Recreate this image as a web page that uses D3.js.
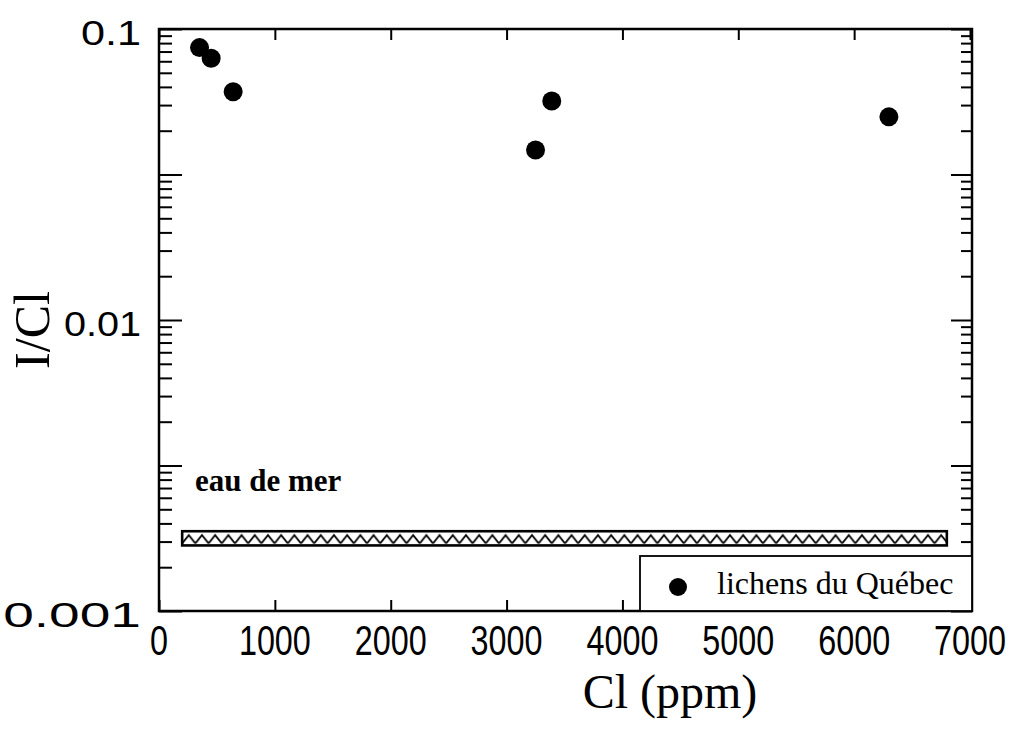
<!DOCTYPE html>
<html><head><meta charset="utf-8">
<script src="https://cdn.jsdelivr.net/npm/d3@7"></script>
<style>body{margin:0;background:#fff}</style></head>
<body><svg id="c" width="1016" height="738"></svg>
<script>
// ---- data ----
const xTickValues = [0,1000,2000,3000,4000,5000,6000,7000];
const xTickLabels = ["0","1000","2000","3000","4000","5000","6000","7000"];
const yMajorValues = [0.1,0.01,0.001];
const yTickLabels = ["0.1","0.01","0.001"];
const clPpm = [350,450,640,3250,3390,6300];
const iCl   = [0.0863,0.0793,0.0609,0.0384,0.0566,0.0499];
const seaCl = [200,6800];
const seaICl = [0.00168,0.00188];
const seriesName = "lichens du Québec";
const bandLabel = "eau de mer";
const xTitle = "Cl (ppm)";
const yTitle = "I/Cl";

// ---- layout ----
const L=159,R=972,T=29,B=611;
const svg=d3.select("#c");
const x=d3.scaleLinear().domain([0,7000]).range([L,R-2]);
const y=d3.scaleLog().domain([0.001,0.1]).range([B,T]);

// half-decade and minor tick values (as drawn in the original)
const halfTicks=[], minorTicks=[];
yMajorValues.slice(0,2).forEach(top=>{
  const h=top/Math.sqrt(10); halfTicks.push(h);
  [top,h].forEach(ht=>{ for(let k=2;k<=9;k++) minorTicks.push(ht*Math.sqrt(k/10)); });
});

const sansF="'Liberation Sans', Arial, sans-serif";
const serifF="'Liberation Serif','Times New Roman', serif";

function styleAxis(g){
  g.select(".domain").remove();
  g.selectAll(".tick line").attr("stroke","#000").attr("stroke-width",2);
}
// left axis
svg.append("g").attr("transform",`translate(${L},0)`)
  .call(d3.axisLeft(y).tickValues(minorTicks).tickSize(-13).tickFormat(""))
  .call(styleAxis);
svg.append("g").attr("transform",`translate(${L},0)`)
  .call(d3.axisLeft(y).tickValues(halfTicks.concat(yMajorValues)).tickSize(-23).tickFormat(""))
  .call(styleAxis);
// right axis
svg.append("g").attr("transform",`translate(${R},0)`)
  .call(d3.axisRight(y).tickValues(minorTicks).tickSize(-11).tickFormat(""))
  .call(styleAxis);
svg.append("g").attr("transform",`translate(${R},0)`)
  .call(d3.axisRight(y).tickValues(halfTicks.concat(yMajorValues)).tickSize(-21).tickFormat(""))
  .call(styleAxis);
// y labels: horizontal stretch follows the reference scan
const yLabelStretch=[1.2,1.1,1.53];
svg.append("g").selectAll("text").data(yMajorValues).join("text")
  .attr("transform",(d,i)=>`translate(141,${y(d)+3}) scale(${yLabelStretch[i]},1)`)
  .attr("dy","0.35em").attr("text-anchor","end")
  .attr("font-family",sansF).attr("font-size",36)
  .text((d,i)=>yTickLabels[i]);
// bottom axis
svg.append("g").attr("transform",`translate(0,${B})`)
  .call(d3.axisBottom(x).tickValues(xTickValues).tickSize(-11).tickFormat(""))
  .call(styleAxis);
svg.append("g").attr("transform",`translate(0,${T})`)
  .call(d3.axisTop(x).tickValues(xTickValues).tickSize(-11).tickFormat(""))
  .call(styleAxis);
svg.append("g").selectAll("text").data(xTickValues).join("text")
  .attr("transform",d=>`translate(${x(d)},655) scale(0.77,1)`)
  .attr("text-anchor","middle")
  .attr("font-family",sansF).attr("font-size",42)
  .text((d,i)=>xTickLabels[i]);

// frame
svg.append("rect").attr("x",L).attr("y",T).attr("width",R-L).attr("height",B-T)
  .attr("fill","none").attr("stroke","#000").attr("stroke-width",2.5);

// sea-water band with zigzag pattern
const defs=svg.append("defs");
const by=y(seaICl[1]), bh=y(seaICl[0])-y(seaICl[1]);
const pat=defs.append("pattern").attr("id","zig").attr("patternUnits","userSpaceOnUse")
  .attr("x",x(seaCl[0])).attr("y",by).attr("width",13.2).attr("height",60);
pat.append("rect").attr("width",13.2).attr("height",60).attr("fill","#fff");
pat.append("path").attr("d",`M0,${bh-2} L6.6,4 L13.2,${bh-2}`).attr("fill","none").attr("stroke","#000").attr("stroke-width",1.8);
svg.append("rect")
  .attr("x",x(seaCl[0])).attr("y",by)
  .attr("width",x(seaCl[1])-x(seaCl[0])).attr("height",bh)
  .attr("fill","url(#zig)").attr("stroke","#000").attr("stroke-width",2.6);
svg.append("text").attr("x",195).attr("y",491)
  .attr("font-family",serifF).attr("font-weight","bold").attr("font-size",31)
  .text(bandLabel);

// points
svg.append("g").selectAll("circle").data(clPpm).join("circle")
  .attr("cx",d=>x(d)).attr("cy",(d,i)=>y(iCl[i])).attr("r",9.5).attr("fill","#000");

// legend
const lg=svg.append("g");
lg.append("rect").attr("x",640).attr("y",556).attr("width",R-640).attr("height",B-556)
  .attr("fill","#fff").attr("stroke","#000").attr("stroke-width",1.8);
lg.append("circle").attr("cx",678).attr("cy",587).attr("r",9).attr("fill","#000");
lg.append("text").attr("x",717).attr("y",594).attr("font-family",serifF).attr("font-size",32)
  .text(seriesName);

// titles
svg.append("text").attr("x",670).attr("y",708).attr("text-anchor","middle")
  .attr("font-family",serifF).attr("font-size",48).text(xTitle);
svg.append("text").attr("transform","translate(49,330) rotate(-90)").attr("text-anchor","middle")
  .attr("font-family",serifF).attr("font-size",50).text(yTitle);
</script></body></html>
